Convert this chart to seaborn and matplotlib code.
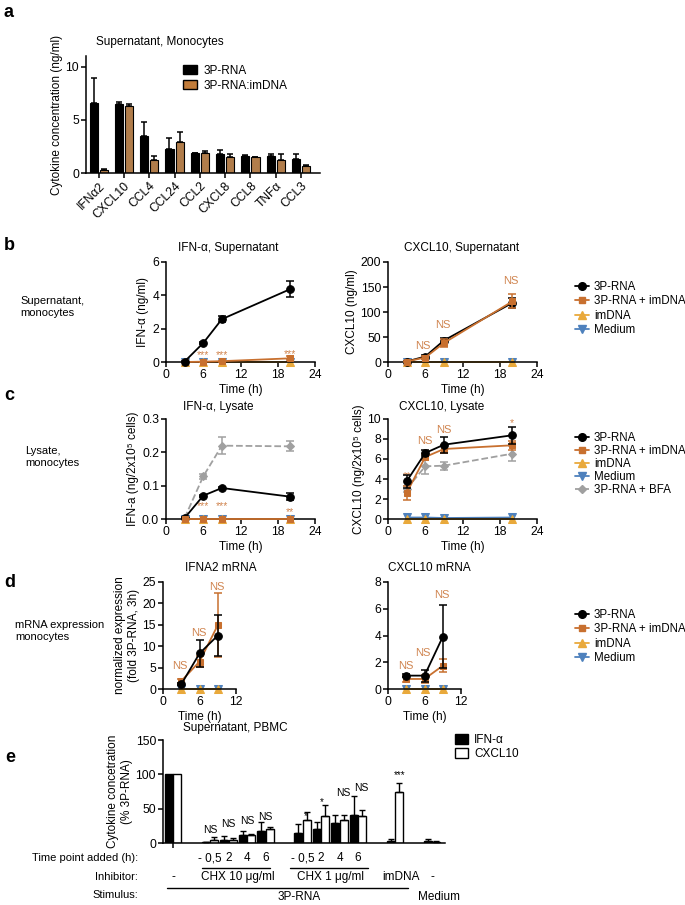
import numpy as np
import pandas as pd
import matplotlib
matplotlib.use("Agg")
import matplotlib.pyplot as plt
from matplotlib.lines import Line2D
from matplotlib.patches import Patch
from matplotlib.transforms import blended_transform_factory
import seaborn as sns

# panel a: supernatant of monocytes
cytokines = ["IFNα2", "CXCL10", "CCL4", "CCL24", "CCL2", "CXCL8", "CCL8", "TNFα", "CCL3"]
a_rna = [6.6, 6.47, 3.44, 2.28, 1.87, 1.78, 1.62, 1.56, 1.28]
a_rna_err = [2.3, 0.18, 1.36, 1.0, 0.05, 0.41, 0.06, 0.22, 0.53]
a_imdna = [0.28, 6.3, 1.25, 2.87, 1.84, 1.5, 1.5, 1.22, 0.62]
a_imdna_err = [0.1, 0.2, 0.31, 1.03, 0.19, 0.31, 0.05, 0.59, 0.1]

# panels b, c: time courses
times = [3, 6, 9, 20]
zeros4 = [0, 0, 0, 0]

b_ifn_rna = [0.03, 1.14, 2.57, 4.37]
b_ifn_rna_err = [0.02, 0.05, 0.2, 0.5]
b_ifn_imd = [0.0, 0.02, 0.05, 0.22]
b_ifn_imd_err = [0.0, 0.01, 0.03, 0.12]

b_cx_rna = [1, 11, 43, 118]
b_cx_rna_err = [0.5, 3, 6, 10]
b_cx_imd = [1, 9, 38, 121]
b_cx_imd_err = [0.5, 3, 8, 14]

c_ifn_rna = [0.003, 0.07, 0.093, 0.067]
c_ifn_rna_err = [0.002, 0.003, 0.004, 0.01]
c_ifn_imd = [0.0, 0.0, 0.0, 0.0]
c_ifn_bfa = [0.003, 0.128, 0.22, 0.218]
c_ifn_bfa_err = [0.002, 0.008, 0.025, 0.015]

c_cx_rna = [3.77, 6.6, 7.43, 8.37]
c_cx_rna_err = [0.67, 0.3, 0.8, 0.83]
c_cx_imd = [2.6, 6.2, 7.0, 7.37]
c_cx_imd_err = [0.67, 0.3, 0.4, 0.45]
c_cx_bfa = [3.0, 5.27, 5.33, 6.53]
c_cx_bfa_err = [0.3, 0.8, 0.4, 0.75]
c_cx_med = [0.15, 0.15, 0.1, 0.15]

# panel d: mRNA
times_d = [3, 6, 9]
zeros3 = [0, 0, 0]
d_ifn_rna = [1.1, 8.3, 12.5]
d_ifn_rna_err = [0.2, 3.2, 4.8]
d_ifn_imd = [1.85, 6.4, 14.9]
d_ifn_imd_err = [0.5, 1.3, 7.5]
d_cx_rna = [1.0, 1.0, 3.9]
d_cx_rna_err = [0.1, 0.45, 2.35]
d_cx_imd = [0.75, 0.75, 1.74]
d_cx_imd_err = [0.2, 0.3, 0.5]

# panel e: PBMC
e_pos = [0, 2, 3, 4, 5, 7, 8, 9, 10, 12, 14]
e_ifn = [100, 1, 5, 12, 18, 14, 20, 29, 41, 3, 3]
e_ifn_err = [0, 1, 5, 5, 12, 14, 10, 12, 28, 2.5, 2.5]
e_cx = [100, 5, 5, 11, 20, 33, 39, 34, 40, 75, 1.5]
e_cx_err = [0, 3.5, 3, 2, 3.5, 12, 16, 7, 8, 13, 1]
e_marks = [(2, "NS", 18.5), (3, "NS", 28), (4, "NS", 32), (5, "NS", 38),
           (7.15, "*", 39), (8.05, "*", 60), (9.2, "NS", 73.5), (10.2, "NS", 80),
           (12.25, "***", 99)]
time_added = ["- 0,5", "2", "4", "6", "- 0,5", "2", "4", "6"]

C_BAR = "#C27C3A"
C_IMD = "#C8702F"
C_DNA = "#E9A93B"
C_MED = "#4E81BD"
C_BFA = "#A0A0A0"
C_TXT = "#D08550"

sns.set_theme(style="ticks")
plt.rcParams["font.family"] = ["Liberation Sans", "DejaVu Sans"]
plt.rcParams.update({
    "axes.linewidth": 1.1, "axes.edgecolor": "black", "axes.labelcolor": "black",
    "text.color": "black", "xtick.color": "black", "ytick.color": "black",
    "xtick.major.width": 1.1, "ytick.major.width": 1.1,
    "xtick.major.size": 3.5, "ytick.major.size": 3.5,
    "xtick.labelsize": 8.7, "ytick.labelsize": 8.7,
    "axes.labelsize": 8.5, "axes.titlesize": 8.5,
    "xtick.major.pad": 1.5, "ytick.major.pad": 1.5, "axes.labelpad": 2,
})

W, H = 685, 905
fig = plt.figure(figsize=(6.85, 9.05), dpi=100)


def add_ax(l, t, r, b):
    return fig.add_axes([l / W, 1 - b / H, (r - l) / W, (b - t) / H])


def ftext(x, y, s, **kw):
    fig.text(x / W, 1 - y / H, s, **kw)


def series(ax, x, y, err, color, marker, ms, ls="-", z=3):
    sns.lineplot(x=x, y=y, ax=ax, color=color, marker=marker, markersize=ms,
                 markeredgecolor=color, linestyle=ls, lw=1.3, zorder=z, clip_on=False)
    if err is not None:
        ax.errorbar(x, y, yerr=err, fmt="none", ecolor=color, elinewidth=1.1,
                    capsize=3, capthick=1.1, zorder=z, clip_on=False)


def finish(ax, xmax, xticks, ylim, yticks, title, tx, ty, ylabel):
    ax.set_xlim(0, xmax)
    ax.set_xticks(xticks)
    ax.set_ylim(*ylim)
    ax.set_yticks(yticks)
    ax.set_xlabel("Time (h)")
    ax.set_ylabel(ylabel)
    ftext(tx, ty, title, ha="center", va="center", fontsize=8.5)
    sns.despine(ax=ax)


def legend(x, y, with_bfa=False, spacing=0.2):
    handles = [
        Line2D([0], [0], color="black", marker="o", ms=5.5, lw=1.3),
        Line2D([0], [0], color=C_IMD, marker="s", ms=5, lw=1.3),
        Line2D([0], [0], color=C_DNA, marker="^", ms=5.5, lw=1.3),
        Line2D([0], [0], color=C_MED, marker="v", ms=5.5, lw=1.3),
    ]
    labels = ["3P-RNA", "3P-RNA + imDNA", "imDNA", "Medium"]
    if with_bfa:
        handles.append(Line2D([0], [0], color=C_BFA, marker="D", ms=4, lw=1.3, ls="--"))
        labels.append("3P-RNA + BFA")
    fig.legend(handles, labels, loc="upper left", bbox_to_anchor=(x / W, 1 - y / H),
               frameon=False, fontsize=8.3, handlelength=1.2, handletextpad=0.45,
               labelspacing=spacing, borderpad=0, borderaxespad=0)


def base_series(ax, x, z):
    series(ax, x, z, None, C_MED, "v", 5.5, z=2)
    series(ax, x, z, None, C_DNA, "^", 5.5, z=2)


# ---------------- a ----------------
df_a = pd.DataFrame({
    "cytokine": cytokines * 2,
    "conc": a_rna + a_imdna,
    "stim": ["3P-RNA"] * 9 + ["3P-RNA:imDNA"] * 9,
})
ax = add_ax(86, 56, 320, 173)
sns.barplot(data=df_a, x="cytokine", y="conc", hue="stim", palette=["black", C_BAR],
            width=0.8, gap=0.2, edgecolor="black", linewidth=0.8, errorbar=None,
            legend=False, ax=ax)
xs = np.arange(len(cytokines))
ax.errorbar(xs - 0.2, a_rna, yerr=[np.zeros(9), a_rna_err], fmt="none", ecolor="black",
            elinewidth=1.1, capsize=2.5, capthick=1.1)
ax.errorbar(xs + 0.2, a_imdna, yerr=[np.zeros(9), a_imdna_err], fmt="none", ecolor="black",
            elinewidth=1.1, capsize=2.5, capthick=1.1)
ax.set_xlim(-0.5, 8.75)
ax.set_ylim(0, 11)
ax.set_yticks([0, 5, 10])
ax.set_xlabel("")
ax.set_ylabel("Cytokine concentration (ng/ml)")
plt.setp(ax.get_xticklabels(), rotation=45, ha="right", rotation_mode="anchor")
sns.despine(ax=ax)
ftext(160, 42, "Supernatant, Monocytes", ha="center", va="center", fontsize=8.5)
ax.legend([Patch(fc="black", ec="black"), Patch(fc=C_BAR, ec="black")],
          ["3P-RNA", "3P-RNA:imDNA"], loc="upper left",
          bbox_to_anchor=(183 / W, 1 - 65 / H), bbox_transform=fig.transFigure,
          frameon=False, fontsize=8.5, handlelength=1.2, handleheight=0.8,
          handletextpad=0.5, labelspacing=0.25, borderpad=0, borderaxespad=0)

# ---------------- b ----------------
ax = add_ax(166, 262, 315, 362)
base_series(ax, times, zeros4)
series(ax, times, b_ifn_imd, b_ifn_imd_err, C_IMD, "s", 5, z=3)
series(ax, times, b_ifn_rna, b_ifn_rna_err, "black", "o", 5.5, z=4)
for t, y in zip([6, 9, 20], [0.4, 0.4, 0.5]):
    ax.text(t, y, "***", ha="center", va="center", color=C_TXT, fontsize=7.5)
finish(ax, 24, [0, 6, 12, 18, 24], (0, 6), [0, 2, 4, 6], "IFN-α, Supernatant", 228, 248,
       "IFN-α (ng/ml)")

ax = add_ax(388, 262, 537, 362)
base_series(ax, times, zeros4)
series(ax, times, b_cx_rna, b_cx_rna_err, "black", "o", 5.5, z=3)
series(ax, times, b_cx_imd, b_cx_imd_err, C_IMD, "s", 5, z=4)
for t, y in zip([5.6, 8.9, 19.8], [33, 74, 162]):
    ax.text(t, y, "NS", ha="center", va="center", color=C_TXT, fontsize=8)
finish(ax, 24, [0, 6, 12, 18, 24], (0, 200), [0, 50, 100, 150, 200],
       "CXCL10, Supernatant", 462, 248, "CXCL10 (ng/ml)")
legend(575, 281)

# ---------------- c ----------------
ax = add_ax(166, 419, 315, 519)
base_series(ax, times, zeros4)
series(ax, times, c_ifn_bfa, c_ifn_bfa_err, C_BFA, "D", 4, ls="--", z=3)
series(ax, times, c_ifn_rna, c_ifn_rna_err, "black", "o", 5.5, z=4)
series(ax, times, c_ifn_imd, None, C_IMD, "s", 5, z=5)
for t, s, y in zip([6, 9, 20], ["***", "***", "**"], [0.038, 0.038, 0.02]):
    ax.text(t, y, s, ha="center", va="center", color=C_TXT, fontsize=7.5)
finish(ax, 24, [0, 6, 12, 18, 24], (0, 0.3), [0.0, 0.1, 0.2, 0.3], "IFN-α, Lysate",
       218, 407, "IFN-a (ng/2x10⁵ cells)")

ax = add_ax(388, 419, 537, 519)
series(ax, times, c_cx_med, None, C_MED, "v", 5.5, z=2)
series(ax, times, zeros4, None, C_DNA, "^", 5.5, z=2)
series(ax, times, c_cx_bfa, c_cx_bfa_err, C_BFA, "D", 4, ls="--", z=3)
series(ax, times, c_cx_imd, c_cx_imd_err, C_IMD, "s", 5, z=4)
series(ax, times, c_cx_rna, c_cx_rna_err, "black", "o", 5.5, z=5)
for t, s, y, fs in [(3, "**", 4.3, 7.5), (6, "NS", 7.77, 8), (9, "NS", 8.93, 8),
                    (20, "*", 9.6, 7.5)]:
    ax.text(t, y, s, ha="center", va="center", color=C_TXT, fontsize=fs)
finish(ax, 24, [0, 6, 12, 18, 24], (0, 10), [0, 2, 4, 6, 8, 10], "CXCL10, Lysate",
       442, 407, "CXCL10 (ng/2x10⁵ cells)")
legend(575, 432, with_bfa=True, spacing=0.08)

# ---------------- d ----------------
ax = add_ax(163, 582, 236, 689)
base_series(ax, times_d, zeros3)
series(ax, times_d, d_ifn_imd, d_ifn_imd_err, C_IMD, "s", 5, z=3)
series(ax, times_d, d_ifn_rna, d_ifn_rna_err, "black", "o", 5.5, z=4)
for t, y in zip([2.8, 5.9, 8.85], [5.3, 13.2, 23.8]):
    ax.text(t, y, "NS", ha="center", va="center", color=C_TXT, fontsize=8)
finish(ax, 12, [0, 6, 12], (0, 25), [0, 5, 10, 15, 20, 25], "IFNA2 mRNA", 221, 568,
       "normalized expression\n(fold 3P-RNA, 3h)")

ax = add_ax(388, 582, 461, 689)
base_series(ax, times_d, zeros3)
series(ax, times_d, d_cx_imd, d_cx_imd_err, C_IMD, "s", 5, z=3)
series(ax, times_d, d_cx_rna, d_cx_rna_err, "black", "o", 5.5, z=4)
for t, y in zip([2.9, 5.7, 8.8], [1.7, 2.7, 7.05]):
    ax.text(t, y, "NS", ha="center", va="center", color=C_TXT, fontsize=8)
finish(ax, 12, [0, 6, 12], (0, 8), [0, 2, 4, 6, 8], "CXCL10 mRNA", 429, 568, "")
legend(575, 609)

# ---------------- e ----------------
df_e = pd.DataFrame({
    "slot": [str(p) for p in e_pos] * 2,
    "value": e_ifn + e_cx,
    "cytokine": ["IFN-α"] * len(e_pos) + ["CXCL10"] * len(e_pos),
})
ax = add_ax(163, 740, 445, 843)
sns.barplot(data=df_e, x="slot", y="value", hue="cytokine",
            order=[str(i) for i in range(15)], hue_order=["IFN-α", "CXCL10"],
            palette=["black", "white"], width=0.92, gap=0.08, edgecolor="black",
            linewidth=1.0, errorbar=None, legend=False, ax=ax)
ep = np.array(e_pos)
ax.errorbar(ep[1:] - 0.23, e_ifn[1:], yerr=[np.zeros(len(ep) - 1), e_ifn_err[1:]],
            fmt="none", ecolor="black", elinewidth=1.0, capsize=2, capthick=1.0)
ax.errorbar(ep[1:] + 0.23, e_cx[1:], yerr=[np.zeros(len(ep) - 1), e_cx_err[1:]],
            fmt="none", ecolor="black", elinewidth=1.0, capsize=2, capthick=1.0)
for x, s, y in e_marks:
    ax.text(x, y, s, ha="center", va="center", fontsize=7.5 if s == "NS" else 7)
ax.set_xlim(-0.54, 14.7)
ax.set_ylim(0, 150)
ax.set_yticks([0, 50, 100, 150])
ax.set_xticks([0])
ax.set_xticklabels([""])
ax.set_xlabel("")
ax.set_ylabel("Cytokine concetration\n(% 3P-RNA)")
ftext(235, 728, "Supernatant, PBMC", ha="center", va="center", fontsize=8.5)
sns.despine(ax=ax)
fig.legend([Patch(fc="black", ec="black"), Patch(fc="white", ec="black")],
           ["IFN-α", "CXCL10"], loc="upper left", bbox_to_anchor=(455 / W, 1 - 734 / H),
           frameon=False, fontsize=8.5, handlelength=1.1, handleheight=0.9,
           handletextpad=0.5, labelspacing=0.15, borderpad=0, borderaxespad=0)

tr = blended_transform_factory(ax.transData, fig.transFigure)
fy = lambda y: 1 - y / H
ftext(138, 858, "Time point added (h):", ha="right", va="center", fontsize=8)
for p, s in zip([2, 3, 4, 5, 7, 8, 9, 10], time_added):
    fig.text(p, fy(858), s, ha="center", va="center", fontsize=8.5, transform=tr)
ftext(138, 877, "Inhibitor:", ha="right", va="center", fontsize=8)
fig.text(0, fy(877), "-", ha="center", va="center", fontsize=8.5, transform=tr)
fig.text(3.5, fy(877), "CHX 10 μg/ml", ha="center", va="center", fontsize=8.5, transform=tr)
fig.text(8.5, fy(877), "CHX 1 μg/ml", ha="center", va="center", fontsize=8.5, transform=tr)
fig.text(12.3, fy(877), "imDNA", ha="center", va="center", fontsize=8.5, transform=tr)
fig.text(14, fy(877), "-", ha="center", va="center", fontsize=8.5, transform=tr)
ftext(138, 895, "Stimulus:", ha="right", va="center", fontsize=8)
fig.text(6.8, fy(897), "3P-RNA", ha="center", va="center", fontsize=8.5, transform=tr)
fig.text(14.4, fy(897), "Medium", ha="center", va="center", fontsize=8.5, transform=tr)
for x0, x1, y in [(1.57, 5.24, 868), (6.32, 10.54, 868), (-0.32, 12.7, 888)]:
    fig.add_artist(Line2D([x0, x1], [fy(y), fy(y)], transform=tr, color="black", lw=1.0))

# row labels and panel letters
ftext(20, 307, "Supernatant,\nmonocytes", ha="left", va="center", fontsize=8)
ftext(25, 457, "Lysate,\nmonocytes", ha="left", va="center", fontsize=8)
ftext(15, 631, "mRNA expression\nmonocytes", ha="left", va="center", fontsize=8)
for s, x, y in [("a", 4, 17), ("b", 4, 250), ("c", 4, 400), ("d", 4, 587), ("e", 5, 762)]:
    ftext(x, y, s, ha="left", va="baseline", fontsize=13, fontweight="bold")

fig.savefig("out.png", dpi=100)
